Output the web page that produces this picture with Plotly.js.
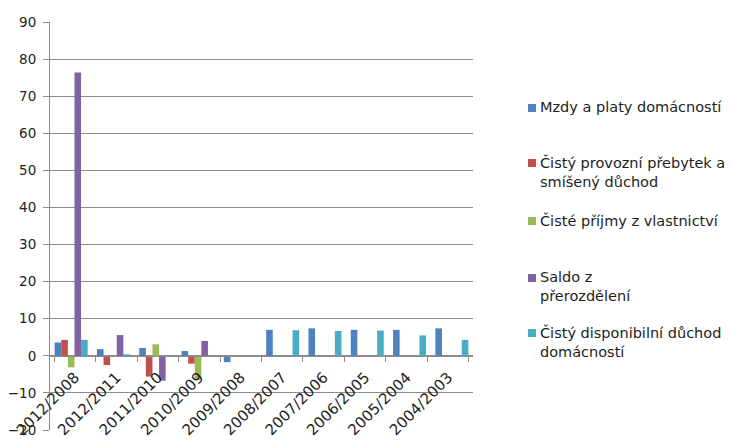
<!DOCTYPE html>
<html>
<head>
<meta charset="utf-8">
<script src="https://cdn.plot.ly/plotly-3.0.1.min.js"></script>
<style>
  html, body { margin: 0; padding: 0; background: #ffffff; }
  #chart { width: 731px; height: 441px; }
</style>
</head>
<body>
<div id="chart"></div>
<script>
// Period pairs on the category axis
const categories = ['2012/2008', '2012/2011', '2011/2010', '2010/2009', '2009/2008',
                    '2008/2007', '2007/2006', '2006/2005', '2005/2004', '2004/2003'];

// Series values
const mzdyPlaty         = [3.6, 1.8, 2.1, 1.3, -1.7, 7.0, 7.4, 7.0, 7.0, 7.4];
const provozniPrebytek  = [4.3, -2.5, -5.6, -2.1, null, null, null, null, null, null];
const prijmyVlastnictvi = [-3.1, -0.3, 3.1, -6.5, null, null, null, null, null, null];
const saldoPrerozdeleni = [76.4, 5.6, -6.7, 4.0, null, null, null, null, null, null];
const disponibilniDuchod = [4.3, 0.4, -0.3, null, null, 6.9, 6.7, 6.8, 5.5, 4.3];

// Legend labels
const seriesNames = [
  'Mzdy a platy domácností',
  'Čistý provozní přebytek a<br>smíšený důchod',
  'Čisté příjmy z vlastnictví',
  'Saldo z<br>přerozdělení',
  'Čistý disponibilní důchod<br>domácností'
];
const seriesValues = [mzdyPlaty, provozniPrebytek, prijmyVlastnictvi, saldoPrerozdeleni, disponibilniDuchod];
const seriesColors = ['#4F81BD', '#C0504D', '#9BBB59', '#8064A2', '#4BACC6'];

// Y tick values
const yTicks = [-20, -10, 0, 10, 20, 30, 40, 50, 60, 70, 80, 90];

// ---- geometry (px) ----
const W = 731, H = 441;
const M = { l: 50, r: 258, t: 22, b: 11 };
const plotW = W - M.l - M.r, plotH = H - M.t - M.b;
const toPaperX = px => (px - M.l) / plotW;
const toPaperY = py => (H - M.b - py) / plotH;

const FONT = 'DejaVu Sans, Noto Sans, sans-serif';
const TEXT = '#1e1e1e';
const GRID = '#8c8c8c';

const traces = seriesValues.map((vals, i) => ({
  type: 'bar',
  x: categories,
  y: vals,
  name: seriesNames[i].replace('<br>', ' '),
  marker: { color: seriesColors[i], line: { width: 0 } },
  showlegend: false,
  hoverinfo: 'x+y+name'
}));

// Empty carrier trace so the category axis on the zero line gets its categories
traces.push({
  type: 'scatter',
  mode: 'markers',
  x: categories,
  y: categories.map(() => null),
  xaxis: 'x2',
  yaxis: 'y',
  showlegend: false,
  hoverinfo: 'skip'
});

// Custom legend block on the right: small square + label
const legendFirstLine = [108, 163, 221, 278, 333];
const shapes = [];
const annotations = [];
seriesNames.forEach((name, i) => {
  const cy = legendFirstLine[i];
  shapes.push({
    type: 'rect', xref: 'paper', yref: 'paper',
    x0: toPaperX(528), x1: toPaperX(536),
    y0: toPaperY(cy + 4), y1: toPaperY(cy - 4),
    fillcolor: seriesColors[i], line: { width: 0 }
  });
  annotations.push({
    xref: 'paper', yref: 'paper',
    x: toPaperX(538), y: toPaperY(cy - 11),
    xanchor: 'left', yanchor: 'top', align: 'left',
    showarrow: false,
    text: name,
    font: { family: FONT, size: 14.5, color: TEXT }
  });
});

const layout = {
  width: W,
  height: H,
  margin: M,
  paper_bgcolor: '#ffffff',
  plot_bgcolor: '#ffffff',
  font: { family: FONT, size: 13, color: TEXT },
  barmode: 'group',
  bargap: 0.22,
  bargroupgap: 0,
  showlegend: false,
  // bar positions
  xaxis: {
    type: 'category',
    anchor: 'y',
    showline: false,
    ticks: '',
    showticklabels: false,
    showgrid: false,
    zeroline: false
  },
  // category axis drawn on the zero line
  xaxis2: {
    type: 'category',
    overlaying: 'x',
    anchor: 'free',
    position: 20 / 110,
    ticks: 'outside',
    tickson: 'boundaries',
    ticklen: 5,
    tickcolor: GRID,
    tickangle: -45,
    ticklabelstandoff: 6,
    showline: true,
    linecolor: GRID,
    linewidth: 1,
    showgrid: false,
    zeroline: false,
    automargin: false,
    tickfont: { family: FONT, size: 15, color: TEXT }
  },
  yaxis: {
    range: [-20, 90],
    tickmode: 'array',
    tickvals: yTicks,
    ticks: 'outside',
    ticklen: 6,
    tickcolor: GRID,
    showline: true,
    linecolor: GRID,
    linewidth: 1,
    showgrid: true,
    gridcolor: GRID,
    gridwidth: 1,
    zeroline: false,
    automargin: false,
    ticklabelstandoff: 4,
    tickfont: { family: FONT, size: 13.5, color: TEXT }
  },
  shapes: shapes,
  annotations: annotations
};

Plotly.newPlot('chart', traces, layout, { displayModeBar: false, staticPlot: true });
</script>
</body>
</html>
